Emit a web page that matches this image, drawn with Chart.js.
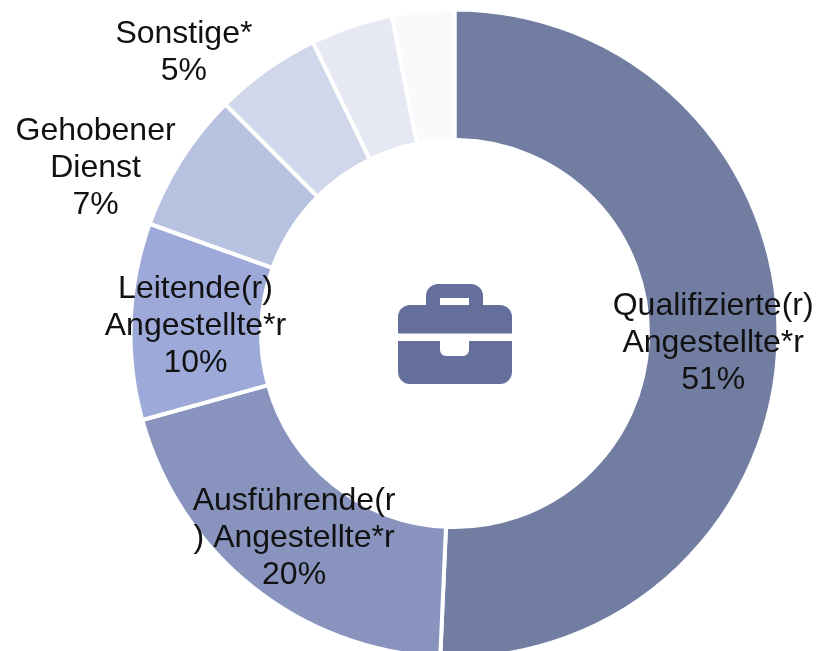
<!DOCTYPE html>
<html><head><meta charset="utf-8">
<style>html,body{margin:0;padding:0;background:#fff;overflow:hidden}#w{width:818px;height:651px;position:relative;overflow:hidden}canvas{display:block}</style>
<script src="https://cdn.jsdelivr.net/npm/chart.js@4/dist/chart.umd.min.js"></script>
</head><body><div id="w"><canvas id="c" width="818" height="675"></canvas></div>
<script>
const categories = ["Qualifizierte(r) Angestellte*r","Ausführende(r) Angestellte*r","Leitende(r) Angestellte*r","Gehobener Dienst","Sonstige*","Weitere A","Weitere B"];
const shares = [50.7,20,9.8,7,5.3,4.1,3.1];
const colors = ["#717DA1","#8894BE","#9DA9D8","#B7C2E0","#D0D7EA","#E6E9F4","#FAFAFD"];
const labelLines = [["Qualifizierte(r)","Angestellte*r","51%"],[ "Ausführende(r",") Angestellte*r","20%"],["Leitende(r)","Angestellte*r","10%"],["Gehobener","Dienst","7%"],["Sonstige*","5%"],[],[]];
const labelOffsets = [[0,3.5],[0.7,2],[-0.5,2.5],[-140.5,-26.5],[-120.5,-70],[0,0],[0,0]];

const labelPlugin = {id:"labels",afterDatasetsDraw(chart){
  const ctx=chart.ctx, arcs=chart.getDatasetMeta(0).data;
  ctx.save();ctx.font='32px "Liberation Sans"';ctx.fillStyle="#111111";ctx.textAlign="center";ctx.textBaseline="middle";
  arcs.forEach((a,i)=>{const p=a.tooltipPosition();const ls=labelLines[i];
    ls.forEach((t,j)=>ctx.fillText(t,p.x+labelOffsets[i][0],p.y+labelOffsets[i][1]+(j-(ls.length-1)/2)*37));});
  ctx.restore();
}};
const iconPlugin = {id:"icon",afterDatasetsDraw(chart){
  const ctx=chart.ctx,a=chart.getDatasetMeta(0).data[0],x=a.x+0.5,y=a.y-2.5;
  const R=(l,t,r,b,rad)=>ctx.roundRect(x+l,y+t,r-l,b-t,rad);
  ctx.save();ctx.fillStyle="#64709B";
  ctx.beginPath();R(-29,-47,28,-15,[12,12,0,0]);R(-15,-33,14,-26,0);ctx.fill("evenodd");
  ctx.beginPath();R(-57,-26,57,2.5,[12,12,0,0]);ctx.fill();
  ctx.beginPath();ctx.moveTo(x-57,y+10);ctx.lineTo(x-15,y+10);ctx.lineTo(x-15,y+19);ctx.arcTo(x-15,y+25,x-9,y+25,6);ctx.lineTo(x+8,y+25);ctx.arcTo(x+14,y+25,x+14,y+19,6);ctx.lineTo(x+14,y+10);ctx.lineTo(x+57,y+10);ctx.lineTo(x+57,y+41);ctx.arcTo(x+57,y+53,x+45,y+53,12);ctx.lineTo(x-45,y+53);ctx.arcTo(x-57,y+53,x-57,y+41,12);ctx.closePath();ctx.fill();
  ctx.restore();
}};
new Chart(document.getElementById("c"),{type:"doughnut",
  data:{labels:categories,datasets:[{data:shares,backgroundColor:colors,borderColor:"#fff",borderWidth:4}]},
  options:{responsive:false,animation:false,cutout:"59.7%",
    layout:{padding:{left:128.5,right:37.5,top:7.5,bottom:15.5}},
    plugins:{legend:{display:false},tooltip:{enabled:false}}},
  plugins:[labelPlugin,iconPlugin]});
</script></body></html>
